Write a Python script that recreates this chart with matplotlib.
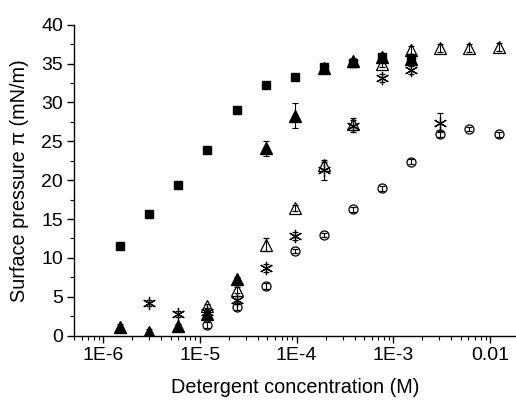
import matplotlib
matplotlib.use("Agg")
import matplotlib.pyplot as plt
from matplotlib.ticker import LogLocator, FixedLocator, NullFormatter, MultipleLocator

plt.rcParams['font.family'] = ['Liberation Sans', 'DejaVu Sans']

# Detergent concentrations (M)
conc = [1.5e-6, 3e-6, 6e-6, 1.2e-5, 2.4e-5, 4.8e-5, 9.6e-5, 1.92e-4,
        3.84e-4, 7.68e-4, 1.536e-3, 3.072e-3, 6.144e-3, 1.2288e-2]

# Filled squares
sq_x = conc[:11]
sq_y = [11.5, 15.7, 19.4, 23.9, 29.0, 32.2, 33.3, 34.5, 35.1, 35.8, 35.7]
sq_e = [0.4, 0.4, 0.3, 0.4, 0.3, 0.3, 0.3, 0.3, 0.3, 0.3, 0.3]

# Filled triangles
ft_x = conc[:11]
ft_y = [1.15, 0.5, 1.25, 2.8, 7.3, 24.1, 28.3, 34.4, 35.3, 35.9, 35.6]
ft_e = [0.3, 0.3, 0.3, 0.3, 0.3, 1.0, 1.6, 0.4, 0.4, 0.4, 0.4]

# Open triangles
ot_x = conc[3:]
ot_y = [3.8, 5.9, 11.7, 16.4, 21.9, 27.2, 35.0, 36.7, 37.0, 37.0, 37.1]
ot_e = [0.3, 0.4, 0.8, 0.4, 0.5, 0.8, 0.5, 0.5, 0.5, 0.5, 0.5]

# Stars
st_x = conc[1:12]
st_y = [4.25, 2.8, 3.0, 4.6, 8.75, 12.8, 21.3, 27.0, 33.1, 34.2, 27.4]
st_e = [0.4, 0.4, 0.4, 0.5, 0.5, 0.5, 1.3, 0.8, 0.5, 0.5, 1.2]

# Open circles
ci_x = conc[3:]
ci_y = [1.4, 3.7, 6.4, 10.9, 12.95, 16.25, 18.96, 22.4, 25.9, 26.6, 25.9]
ci_e = [0.4, 0.4, 0.4, 0.3, 0.3, 0.3, 0.3, 0.3, 0.4, 0.3, 0.3]

fig = plt.figure(figsize=(5.16, 4.0), dpi=100)
ax = fig.add_axes([0.1434, 0.1608, 0.8566, 0.7775])

common = dict(linestyle='none', ecolor='black', elinewidth=0.8, capsize=2.5,
              capthick=0.8, color='black')
ax.errorbar(ci_x, ci_y, yerr=ci_e, marker='o', ms=6.5, mfc='none', mec='black', mew=0.9, **common)
ax.errorbar(st_x, st_y, yerr=st_e, marker=(6, 2, 0), ms=9.5, mec='black', mew=0.9, **common)
ax.errorbar(ot_x, ot_y, yerr=ot_e, marker='^', ms=9, mfc='none', mec='black', mew=0.9, **common)
ax.errorbar(ft_x, ft_y, yerr=ft_e, marker='^', ms=9, mfc='black', mec='black', **common)
ax.errorbar(sq_x, sq_y, yerr=sq_e, marker='s', ms=6.2, mfc='black', mec='black', **common)

ax.set_xscale('log')
ax.set_xlim(5e-7, 0.0186)
ax.set_ylim(0, 40)
ax.xaxis.set_major_locator(FixedLocator([1e-6, 1e-5, 1e-4, 1e-3, 1e-2]))
ax.set_xticklabels(['1E-6', '1E-5', '1E-4', '1E-3', '0.01'])
ax.xaxis.set_minor_locator(LogLocator(base=10, subs=range(2, 10), numticks=20))
ax.xaxis.set_minor_formatter(NullFormatter())
ax.yaxis.set_major_locator(MultipleLocator(5))
ax.yaxis.set_minor_locator(MultipleLocator(2.5))

for side in ('top', 'right'):
    ax.spines[side].set_visible(False)
for side in ('left', 'bottom'):
    ax.spines[side].set_linewidth(1.0)

ax.tick_params(which='major', direction='out', length=5, width=1.0, labelsize=14, pad=3)
ax.tick_params(which='minor', direction='out', length=3, width=0.8)

ax.set_xlabel('Detergent concentration (M)', fontsize=14.3, labelpad=10)
ax.set_ylabel('Surface pressure \u03c0 (mN/m)', fontsize=14.3, labelpad=9)

fig.savefig('out.png', dpi=100)
